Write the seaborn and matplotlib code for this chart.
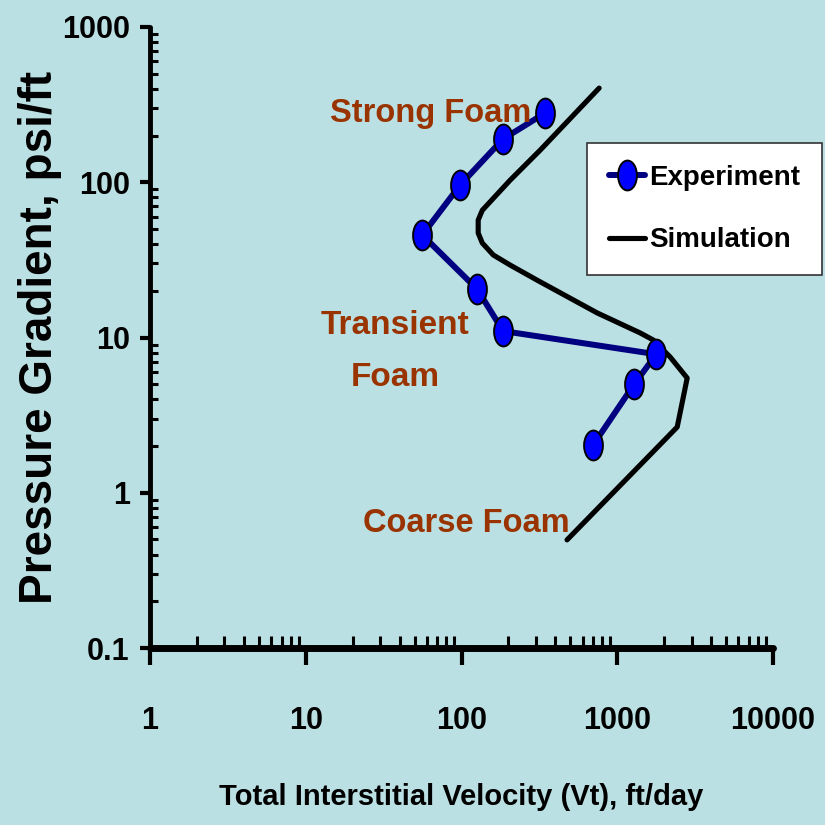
import matplotlib
matplotlib.use("Agg")
import matplotlib.pyplot as plt
from matplotlib.path import Path
from matplotlib.transforms import Affine2D
from matplotlib.ticker import FixedLocator, LogLocator, NullFormatter
import pandas as pd
import seaborn as sns

# Experimental foam flow data
exp_velocity = [344, 185, 98, 56, 126, 185, 1780, 1285, 700]
exp_gradient = [279, 190, 96, 45.7, 20.5, 11.0, 7.8, 5.0, 2.03]

# Simulated pressure-gradient curve
sim_velocity = [765, 320, 205, 136, 128, 128, 136, 160, 205, 306, 743,
                1403, 1702, 2188, 2812, 2426, 476]
sim_gradient = [404, 161, 103, 66, 57.1, 47.1, 40.6, 34.0, 29.3, 23.4, 14.4,
                10.7, 9.64, 7.48, 5.48, 2.65, 0.497]

x_ticks = [1, 10, 100, 1000, 10000]
x_tick_labels = ["1", "10", "100", "1000", "10000"]
y_ticks = [0.1, 1, 10, 100, 1000]
y_tick_labels = ["0.1", "1", "10", "100", "1000"]

series_labels = ["Experiment", "Simulation"]
regime_labels = ["Strong Foam", "Transient\nFoam", "Coarse Foam"]

BG = "#bbe0e3"
BROWN = "#993300"
FONT = ["Liberation Sans", "DejaVu Sans"]

sns.set_style("ticks")
plt.rcParams.update({
    "font.family": FONT,
    "font.weight": "bold",
    "text.color": "black",
    "axes.labelcolor": "black",
    "axes.edgecolor": "black",
    "xtick.color": "black",
    "ytick.color": "black",
})

exp_df = pd.DataFrame({"velocity": exp_velocity, "gradient": exp_gradient})
sim_df = pd.DataFrame({"velocity": sim_velocity, "gradient": sim_gradient})

fig = plt.figure(figsize=(8.25, 8.25), dpi=100, facecolor=BG)
ax = fig.add_axes([150 / 825, 177 / 825, 623 / 825, 621 / 825])
ax.set_facecolor(BG)
ax.set_xscale("log")
ax.set_yscale("log")

# upright ellipse marker
ellipse = Path.unit_circle().transformed(Affine2D().scale(0.63, 1.0))

sns.lineplot(data=sim_df, x="velocity", y="gradient", sort=False,
             estimator=None, ax=ax, color="black", linewidth=3.7,
             solid_capstyle="round", solid_joinstyle="round",
             label=series_labels[1], zorder=2)
sns.lineplot(data=exp_df, x="velocity", y="gradient", sort=False,
             estimator=None, ax=ax, color="#000080", linewidth=4.3,
             marker=ellipse, markersize=21.5, markerfacecolor="#0000ff",
             markeredgecolor="black", markeredgewidth=1.4,
             label=series_labels[0], zorder=3)

ax.set_xlim(1, 10000)
ax.set_ylim(0.1, 1000)

ax.xaxis.set_major_locator(FixedLocator(x_ticks))
ax.xaxis.set_minor_locator(LogLocator(base=10, subs=range(2, 10)))
ax.xaxis.set_minor_formatter(NullFormatter())
ax.set_xticklabels(x_tick_labels)
ax.yaxis.set_major_locator(FixedLocator(y_ticks))
ax.yaxis.set_minor_locator(LogLocator(base=10, subs=range(2, 10)))
ax.yaxis.set_minor_formatter(NullFormatter())
ax.set_yticklabels(y_tick_labels)

for side in ("top", "right"):
    ax.spines[side].set_visible(False)
ax.spines["bottom"].set_linewidth(5)
ax.spines["left"].set_linewidth(3.5)
ax.spines["bottom"].set_capstyle("round")
ax.spines["left"].set_capstyle("round")

ax.tick_params(axis="x", which="major", direction="out", length=12.5,
               width=3, pad=29, labelsize=22)
ax.tick_params(axis="x", which="minor", direction="in", length=9, width=2.2)
ax.tick_params(axis="y", which="major", direction="out", length=7.5,
               width=3, pad=7, labelsize=22)
ax.tick_params(axis="y", which="minor", direction="in", length=6, width=2.2)
for lab in ax.get_xticklabels() + ax.get_yticklabels():
    lab.set_fontweight("bold")

ax.set_xlabel("Total Interstitial Velocity (Vt), ft/day", fontsize=21,
              fontweight="bold")
ax.xaxis.set_label_coords(0.5, -0.2175)
ax.set_ylabel("Pressure Gradient, psi/ft", fontsize=33, fontweight="bold")
ax.yaxis.set_label_coords(-0.1413, 0.5)

ax.text(63.8, 244, regime_labels[0], color=BROWN, fontsize=23.5,
        fontweight="bold", ha="center", va="baseline")
ax.text(37.5, 4.88, regime_labels[1], color=BROWN, fontsize=24,
        fontweight="bold", ha="center", va="baseline", multialignment="center",
        linespacing=1.85)
ax.text(107, 0.558, regime_labels[2], color=BROWN, fontsize=23.5,
        fontweight="bold", ha="center", va="baseline")

handles, labels = ax.get_legend_handles_labels()
order = [labels.index(s) for s in series_labels]
leg = ax.legend([handles[i] for i in order], [labels[i] for i in order],
                loc="upper left", bbox_to_anchor=(587 / 825, 682 / 825),
                bbox_transform=fig.transFigure, borderaxespad=0,
                frameon=True, fancybox=False, framealpha=1,
                facecolor="white", edgecolor="#333333",
                prop={"family": FONT, "weight": "bold", "size": 20},
                handlelength=1.3, handletextpad=0.15,
                labelspacing=1.32, borderpad=0.78)
leg.get_frame().set_linewidth(1.2)

fig.savefig("out.png", dpi=100, facecolor=BG)
